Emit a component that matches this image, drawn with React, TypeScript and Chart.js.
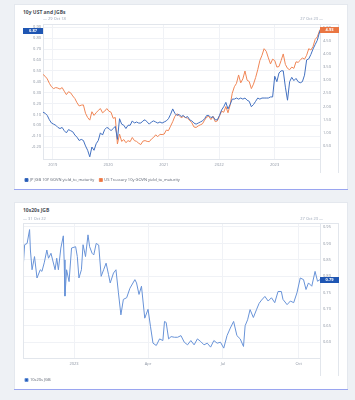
import React, { useEffect, useRef } from "react";
import { Chart, registerables } from "chart.js";

Chart.register(...registerables);

const FONT = "'Open Sans', 'Noto Sans', sans-serif";
const PAGE_BG = "#eef1f5";
const GRID = "#f0f2f6";
const AXIS = "#e2e6ec";
const TICK = "#8c94a2";
const SUB = "#9ba6b8";
const BLUE1 = "#4270c0";
const ORANGE = "#f08656";
const BLUE2 = "#6893d8";
const BOX_BLUE = "#1f56b3";
const BOX_ORANGE = "#ea7642";

const DAY = 86400000;

// ---------- Chart 1: 10y UST and JGBs ----------
const c1Start = "2018-10-29";
const c1End = "2023-10-27";
const c1StartLabel = "29 Oct 18";
const c1EndLabel = "27 Oct 23";
// fortnightly sample dates from 29 Oct 2018 to 27 Oct 2023
const jgbLabel = "JP JGB 10Y GOVN yield_to_maturity";
const ustLabel = "US Treasury 10y GOVN yield_to_maturity";
const jgb10y = [
  0.12, 0.11, 0.09, 0.05, 0.02, 0.01, 0.0, -0.02, -0.03, -0.02,
  -0.05, -0.07, -0.04, -0.05, -0.06, -0.09, -0.11, -0.14, -0.13, -0.14,
  -0.19, -0.23, -0.29, -0.2, -0.23, -0.17, -0.14, -0.07, -0.09, -0.04,
  -0.02, -0.03, -0.05, -0.03, -0.01, -0.13, 0.06, 0.01, 0.0, -0.03,
  0.0, 0.0, 0.04, 0.02, 0.03, 0.02, 0.02, 0.04, 0.05, 0.03,
  0.01, 0.03, 0.04, 0.03, 0.02, 0.03, 0.02, 0.03, 0.04, 0.06,
  0.1, 0.15, 0.11, 0.09, 0.1, 0.08, 0.09, 0.07, 0.08, 0.05,
  0.04, 0.02, 0.01, 0.02, 0.03, 0.04, 0.06, 0.09, 0.09, 0.07,
  0.08, 0.05, 0.05, 0.09, 0.14, 0.17, 0.21, 0.15, 0.19, 0.24,
  0.24, 0.25, 0.24, 0.25, 0.24, 0.25, 0.23, 0.22, 0.17, 0.19,
  0.22, 0.25, 0.24, 0.25, 0.25, 0.25, 0.25, 0.26, 0.26, 0.45,
  0.4, 0.48, 0.5, 0.5, 0.35, 0.23, 0.4, 0.44, 0.41, 0.43,
  0.4, 0.39, 0.4, 0.46, 0.6, 0.61, 0.65, 0.7, 0.74, 0.78,
  0.87,
];
const ust10y = [
  3.22, 3.15, 3.05, 2.88, 2.75, 2.68, 2.72, 2.7, 2.66, 2.72,
  2.58, 2.45, 2.56, 2.52, 2.4, 2.3, 2.14, 2.02, 2.05, 2.06,
  1.74, 1.58, 1.48, 1.8, 1.66, 1.76, 1.85, 1.92, 1.76, 1.82,
  1.92, 1.82, 1.78, 1.55, 1.58, 0.57, 0.95, 0.67, 0.74, 0.62,
  0.7, 0.66, 0.82, 0.7, 0.67, 0.6, 0.55, 0.68, 0.7, 0.67,
  0.66, 0.76, 0.82, 0.92, 0.85, 0.94, 0.93, 0.95, 1.1, 1.08,
  1.25, 1.42, 1.62, 1.72, 1.66, 1.57, 1.62, 1.58, 1.55, 1.47,
  1.38, 1.22, 1.2, 1.26, 1.3, 1.34, 1.48, 1.6, 1.62, 1.5,
  1.62, 1.42, 1.45, 1.63, 1.82, 1.78, 2.0, 1.76, 2.05, 2.5,
  2.75, 2.88, 3.2, 2.9, 3.05, 3.35, 3.0, 2.95, 2.68, 2.85,
  3.1, 3.4, 3.75, 3.95, 4.2, 4.1, 3.85, 3.62, 3.8, 3.75,
  3.5, 3.52, 3.75, 4.0, 3.6, 3.45, 3.4, 3.5, 3.45, 3.7,
  3.68, 3.76, 3.85, 3.8, 3.95, 4.2, 4.15, 4.28, 4.55, 4.65,
  4.93,
];
const c1TickDates = ["2019-01-01", "2020-01-01", "2021-01-01", "2022-01-01", "2023-01-01"];
const c1TickLabels = ["2019", "2020", "2021", "2022", "2023"];
const jgbTicks = [-0.2, -0.1, 0.0, 0.1, 0.2, 0.3, 0.4, 0.5, 0.6, 0.7, 0.8, 0.9];
const ustTicks = [0.5, 1.0, 1.5, 2.0, 2.5, 3.0, 3.5, 4.0, 4.5, 5.0];

// ---------- Chart 2: 10s20s JGB ----------
const c2Start = "2022-10-31";
const c2End = "2023-10-27";
const c2StartLabel = "31 Oct 22";
const c2EndLabel = "27 Oct 23";
const spreadLabel = "10s20s JGB";
const spreadDates = [
  "2022-10-31", "2022-11-02", "2022-11-05", "2022-11-08", "2022-11-09", "2022-11-11", "2022-11-14", "2022-11-17",
  "2022-11-21", "2022-11-23", "2022-11-26", "2022-11-29", "2022-12-01", "2022-12-04", "2022-12-06", "2022-12-09",
  "2022-12-11", "2022-12-13", "2022-12-16", "2022-12-19", "2022-12-20", "2022-12-21", "2022-12-23", "2022-12-26",
  "2022-12-29", "2023-01-03", "2023-01-05", "2023-01-07", "2023-01-10", "2023-01-12", "2023-01-15", "2023-01-18",
  "2023-01-20", "2023-01-23", "2023-01-25", "2023-01-28", "2023-01-31", "2023-02-03", "2023-02-06", "2023-02-09",
  "2023-02-12", "2023-02-14", "2023-02-18", "2023-02-21", "2023-02-24", "2023-02-27", "2023-03-02", "2023-03-06",
  "2023-03-10", "2023-03-16", "2023-03-18", "2023-03-21", "2023-03-24", "2023-03-28", "2023-04-01", "2023-04-04",
  "2023-04-07", "2023-04-11", "2023-04-15", "2023-04-19", "2023-04-21", "2023-04-23", "2023-04-26", "2023-04-29",
  "2023-05-03", "2023-05-07", "2023-05-11", "2023-05-15", "2023-05-19", "2023-05-23", "2023-05-27", "2023-05-31",
  "2023-06-04", "2023-06-08", "2023-06-12", "2023-06-16", "2023-06-20", "2023-06-24", "2023-06-28", "2023-07-02",
  "2023-07-06", "2023-07-10", "2023-07-14", "2023-07-18", "2023-07-22", "2023-07-26", "2023-07-28", "2023-07-31",
  "2023-08-03", "2023-08-07", "2023-08-11", "2023-08-14", "2023-08-17", "2023-08-21", "2023-08-25", "2023-08-29",
  "2023-09-02", "2023-09-06", "2023-09-10", "2023-09-12", "2023-09-17", "2023-09-21", "2023-09-25", "2023-09-29",
  "2023-10-03", "2023-10-07", "2023-10-10", "2023-10-13", "2023-10-17", "2023-10-21", "2023-10-24", "2023-10-27",
];
const spreadValues = [
  0.82, 0.896, 0.9, 0.942, 0.88, 0.82, 0.86, 0.795,
  0.82, 0.815, 0.843, 0.88, 0.855, 0.87, 0.85, 0.82,
  0.855, 0.82, 0.886, 0.923, 0.85, 0.74, 0.82, 0.784,
  0.886, 0.89, 0.86, 0.795, 0.82, 0.896, 0.86, 0.926,
  0.89, 0.87, 0.865, 0.9, 0.895, 0.8, 0.82, 0.84,
  0.805, 0.78, 0.81, 0.82, 0.75, 0.683, 0.73, 0.735,
  0.764, 0.79, 0.78, 0.745, 0.77, 0.673, 0.7, 0.647,
  0.597, 0.59, 0.61, 0.605, 0.663, 0.66, 0.61, 0.617,
  0.615, 0.615, 0.62, 0.6, 0.592, 0.605, 0.592, 0.61,
  0.602, 0.592, 0.597, 0.585, 0.605, 0.597, 0.6, 0.582,
  0.62, 0.643, 0.663, 0.62, 0.61, 0.587, 0.65, 0.668,
  0.699, 0.675, 0.7, 0.718, 0.728, 0.739, 0.725, 0.735,
  0.72, 0.754, 0.754, 0.73, 0.714, 0.725, 0.72, 0.75,
  0.795, 0.79, 0.76, 0.78, 0.77, 0.815, 0.785, 0.79,
];
const c2TickDates = ["2023-01-01", "2023-04-01", "2023-07-01", "2023-10-01"];
const c2TickLabels = ["2023", "Apr", "Jul", "Oct"];
const spreadTicks = [0.6, 0.65, 0.7, 0.75, 0.8, 0.85, 0.9, 0.95];

const daysFrom = (origin: string, iso: string) =>
  Math.round((Date.parse(iso) - Date.parse(origin)) / DAY);

type BoxSpec = { ds: number; axis: string; side: "left" | "right"; color: string };

function decorPlugin(opts: {
  start: string;
  end: string;
  boxes: BoxSpec[];
  rightCol: number;
  leftBorder?: boolean;
  subOffset: number;
}) {
  return {
    id: "decor",
    afterDraw(chart: any) {
      const { ctx, chartArea: a } = chart;
      const xb = chart.scales.x.bottom;
      ctx.save();
      ctx.strokeStyle = AXIS;
      ctx.lineWidth = 1;
      ctx.beginPath();
      ctx.moveTo(a.left, Math.round(a.top) + 0.5);
      ctx.lineTo(a.right + opts.rightCol, Math.round(a.top) + 0.5);
      const rx = Math.round(a.right + opts.rightCol) - 0.5;
      ctx.moveTo(rx, a.top);
      ctx.lineTo(rx, xb);
      ctx.moveTo(Math.round(a.right) + 0.5, a.bottom);
      ctx.lineTo(Math.round(a.right) + 0.5, xb);
      if (opts.leftBorder) {
        ctx.moveTo(Math.round(a.left) + 0.5, a.top);
        ctx.lineTo(Math.round(a.left) + 0.5, a.bottom);
      }
      ctx.stroke();

      ctx.font = `4px ${FONT}`;
      ctx.fillStyle = SUB;
      ctx.textBaseline = "middle";
      ctx.textAlign = "left";
      ctx.fillText("\u2014 " + opts.start, a.left, a.top - opts.subOffset);
      ctx.textAlign = "right";
      ctx.fillText(opts.end + " \u2014", a.right + 3, a.top - opts.subOffset);

      for (const b of opts.boxes) {
        const data = chart.data.datasets[b.ds].data;
        const last = data[data.length - 1].y;
        const y = chart.scales[b.axis].getPixelForValue(last);
        const w = b.side === "left" ? 20 : opts.rightCol;
        const x0 = b.side === "left" ? a.left - 20 : a.right;
        ctx.fillStyle = b.color;
        ctx.fillRect(x0, Math.round(y) - 3, w, 6);
        ctx.fillStyle = "#ffffff";
        ctx.textAlign = "center";
        ctx.font = `bold 4px ${FONT}`;
        ctx.fillText(last.toFixed(2), x0 + w / 2, Math.round(y));
      }
      ctx.restore();
    },
  };
}

const tickFont = { family: FONT, size: 4 };

function chart1Config(): any {
  const total = daysFrom(c1Start, c1End);
  const xs = jgb10y.map((_, i) => (i === jgb10y.length - 1 ? total : i * 14));
  const tickDays = c1TickDates.map((d) => daysFrom(c1Start, d));
  return {
    type: "line",
    data: {
      datasets: [
        {
          label: jgbLabel,
          data: jgb10y.map((v, i) => ({ x: xs[i], y: v })),
          yAxisID: "yL",
          borderColor: BLUE1,
          backgroundColor: BOX_BLUE,
          borderWidth: 1,
          pointRadius: 0,
        },
        {
          label: ustLabel,
          data: ust10y.map((v, i) => ({ x: xs[i], y: v })),
          yAxisID: "yR",
          borderColor: ORANGE,
          backgroundColor: BOX_ORANGE,
          borderWidth: 1,
          pointRadius: 0,
        },
      ],
    },
    options: {
      animation: false,
      responsive: false,
      maintainAspectRatio: false,
      layout: { padding: { left: 6, right: 9, top: 20, bottom: 0 } },
      scales: {
        x: {
          type: "linear",
          min: 0,
          max: total,
          afterBuildTicks: (s: any) => {
            s.ticks = tickDays.map((v) => ({ value: v }));
          },
          afterFit: (s: any) => {
            s.height = 14;
          },
          ticks: {
            autoSkip: false,
            maxRotation: 0,
            padding: 3,
            color: TICK,
            font: tickFont,
            callback: (v: number) => c1TickLabels[tickDays.indexOf(v)] ?? "",
          },
          grid: { color: GRID, drawTicks: false },
          border: { color: AXIS },
        },
        yL: {
          position: "left",
          min: -0.31,
          max: 0.93,
          afterBuildTicks: (s: any) => {
            s.ticks = jgbTicks.map((v) => ({ value: v }));
          },
          afterFit: (s: any) => {
            s.width = 23;
          },
          ticks: { padding: 2, color: TICK, font: tickFont, callback: (v: number) => v.toFixed(2) },
          grid: { color: GRID, drawTicks: false },
          border: { color: AXIS },
        },
        yR: {
          position: "right",
          min: 0,
          max: 5.14,
          afterBuildTicks: (s: any) => {
            s.ticks = ustTicks.map((v) => ({ value: v }));
          },
          afterFit: (s: any) => {
            s.width = 19;
          },
          ticks: { padding: 3, color: TICK, font: tickFont, callback: (v: number) => v.toFixed(2) },
          grid: { display: false, drawTicks: false },
          border: { color: AXIS },
        },
      },
      plugins: {
        legend: {
          position: "bottom",
          align: "start",
          labels: { boxWidth: 3, boxHeight: 3, padding: 5, color: "#5d6472", font: tickFont },
        },
        tooltip: { enabled: false },
      },
    },
    plugins: [
      decorPlugin({
        start: c1StartLabel,
        end: c1EndLabel,
        rightCol: 19,
        subOffset: 5,
        boxes: [
          { ds: 0, axis: "yL", side: "left", color: BOX_BLUE },
          { ds: 1, axis: "yR", side: "right", color: BOX_ORANGE },
        ],
      }),
    ],
  };
}

function chart2Config(): any {
  const total = daysFrom(c2Start, c2End);
  const tickDays = c2TickDates.map((d) => daysFrom(c2Start, d));
  return {
    type: "line",
    data: {
      datasets: [
        {
          label: spreadLabel,
          data: spreadValues.map((v, i) => ({ x: daysFrom(c2Start, spreadDates[i]), y: v })),
          yAxisID: "y",
          borderColor: BLUE2,
          backgroundColor: BOX_BLUE,
          borderWidth: 1,
          pointRadius: 0,
        },
      ],
    },
    options: {
      animation: false,
      responsive: false,
      maintainAspectRatio: false,
      layout: { padding: { left: 9, right: 9, top: 21, bottom: 0 } },
      scales: {
        x: {
          type: "linear",
          min: 0,
          max: total,
          afterBuildTicks: (s: any) => {
            s.ticks = tickDays.map((v) => ({ value: v }));
          },
          afterFit: (s: any) => {
            s.height = 18;
          },
          ticks: {
            autoSkip: false,
            maxRotation: 0,
            padding: 3,
            color: TICK,
            font: tickFont,
            callback: (v: number) => c2TickLabels[tickDays.indexOf(v)] ?? "",
          },
          grid: { color: GRID, drawTicks: false },
          border: { color: AXIS },
        },
        y: {
          position: "right",
          min: 0.552,
          max: 0.962,
          afterBuildTicks: (s: any) => {
            s.ticks = spreadTicks.map((v) => ({ value: v }));
          },
          afterFit: (s: any) => {
            s.width = 19;
          },
          ticks: { padding: 3, color: TICK, font: tickFont, callback: (v: number) => v.toFixed(2) },
          grid: { color: GRID, drawTicks: false },
          border: { color: AXIS },
        },
      },
      plugins: {
        legend: {
          position: "bottom",
          align: "start",
          labels: { boxWidth: 3, boxHeight: 3, padding: 2, color: "#5d6472", font: tickFont },
        },
        tooltip: { enabled: false },
      },
    },
    plugins: [
      decorPlugin({
        start: c2StartLabel,
        end: c2EndLabel,
        rightCol: 19,
        subOffset: 4,
        leftBorder: true,
        boxes: [{ ds: 0, axis: "y", side: "right", color: BOX_BLUE }],
      }),
    ],
  };
}

function ChartCard(props: {
  top: number;
  height: number;
  canvasHeight: number;
  title: string;
  makeConfig: () => any;
}) {
  const ref = useRef<HTMLCanvasElement | null>(null);
  useEffect(() => {
    if (!ref.current) return;
    const chart = new Chart(ref.current, props.makeConfig());
    return () => chart.destroy();
  }, []);
  return (
    <div
      style={{
        position: "absolute",
        left: 14,
        top: props.top,
        width: 334,
        height: props.height,
        background: "#ffffff",
        boxShadow: "inset 0 0 0 1px #e4e8ee",
      }}
    >
      <div
        style={{
          position: "absolute",
          left: 0,
          right: 0,
          bottom: 0,
          height: 1,
          background: "#9aa5f0",
        }}
      />
      <div
        style={{
          position: "absolute",
          left: 9,
          top: 5,
          fontFamily: FONT,
          fontSize: "5px",
          fontWeight: 700,
          lineHeight: "6px",
          color: "#4a4f58",
          whiteSpace: "nowrap",
        }}
      >
        {props.title}
      </div>
      <canvas
        ref={ref}
        width={334}
        height={props.canvasHeight}
        style={{ position: "absolute", left: 0, top: 0, width: 334, height: props.canvasHeight }}
      />
    </div>
  );
}

export default function App() {
  return (
    <div
      style={{
        position: "fixed",
        left: 0,
        top: 0,
        width: 355,
        height: 400,
        background: PAGE_BG,
        overflow: "hidden",
      }}
    >
      <ChartCard top={4} height={186} canvasHeight={188} title="10y UST and JGBs" makeConfig={chart1Config} />
      <ChartCard top={202} height={188} canvasHeight={190} title="10s20s JGB" makeConfig={chart2Config} />
    </div>
  );
}
